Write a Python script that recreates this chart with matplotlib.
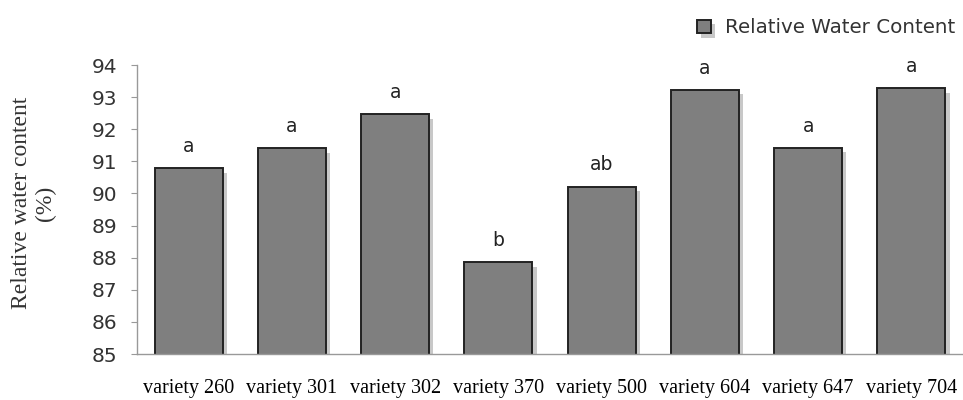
import matplotlib
matplotlib.use("Agg")
import matplotlib.pyplot as plt
import matplotlib.patheffects as pe
import numpy as np

# data
varieties = ["variety 260", "variety 301", "variety 302", "variety 370",
             "variety 500", "variety 604", "variety 647", "variety 704"]
rwc = [90.78, 91.40, 92.46, 87.85, 90.21, 93.22, 91.42, 93.27]
letters = ["a", "a", "a", "b", "ab", "a", "a", "a"]
yticks = list(range(85, 95))

fig = plt.figure(figsize=(9.63, 4.0), dpi=100)
ax = fig.add_axes([0.1423, 0.115, 0.8577, 0.7225])

x = np.arange(len(varieties))
bars = ax.bar(x, rwc, width=0.66, bottom=0, color="#7f7f7f", edgecolor="#222222",
              linewidth=1.4, label="Relative Water Content")
for b in bars:
    b.set_path_effects([pe.SimplePatchShadow(offset=(3, -3), alpha=0.25), pe.Normal()])

for xi, v, t in zip(x, rwc, letters):
    ax.text(xi, v + 0.68, t, ha="center", va="center", fontsize=13.5,
            family="DejaVu Sans", color="#222222")

ax.set_ylim(85, 94)
ax.set_xlim(-0.5, 7.5)
ax.set_yticks(yticks)
ax.set_xticks(x)
ax.set_xticklabels(varieties, family="Liberation Serif", fontsize=14.5)
ax.tick_params(axis="x", length=0, pad=18)
ax.tick_params(axis="y", length=4, color="#999999", labelsize=14.5, pad=10)
for lbl in ax.get_yticklabels():
    lbl.set_family("DejaVu Sans")
    lbl.set_color("#333333")

for s in ["top", "right"]:
    ax.spines[s].set_visible(False)
for s in ["left", "bottom"]:
    ax.spines[s].set_color("#999999")
    ax.spines[s].set_linewidth(1)

ax.set_ylabel("Relative water content\n(%)", family="Liberation Serif", fontsize=17,
              linespacing=1.2, color="#333333")
ax.yaxis.set_label_coords(-0.098, 0.522)

leg = ax.legend(loc="lower right", bbox_to_anchor=(1.0, 1.068), frameon=False,
                fontsize=14.3, handlelength=0.7, handleheight=0.7, handletextpad=0.7,
                borderaxespad=0)
for t in leg.get_texts():
    t.set_color("#333333")

fig.savefig("out.png", dpi=100)
